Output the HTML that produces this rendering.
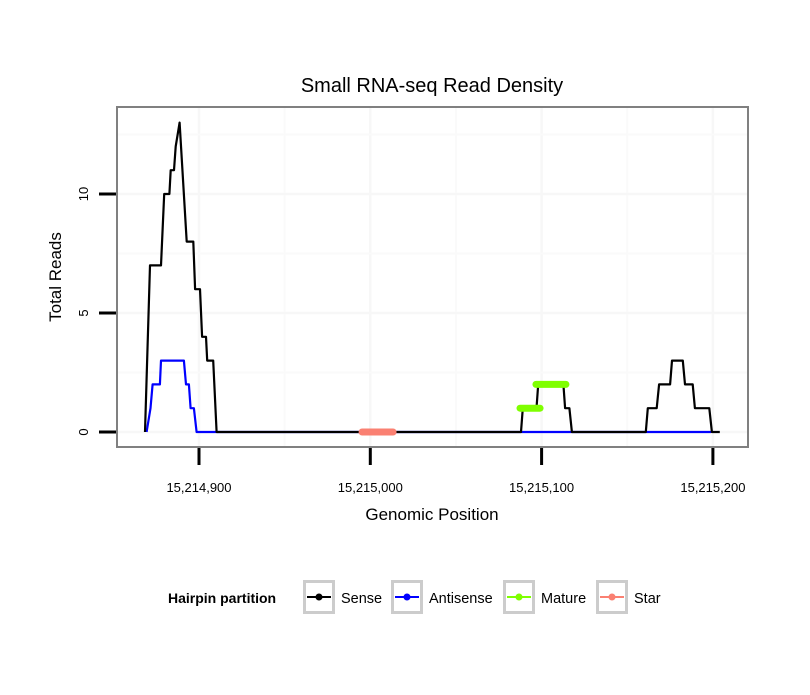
<!DOCTYPE html>
<html><head><meta charset="utf-8"><style>
body{margin:0;background:#fff;font-family:"Liberation Sans",sans-serif}
svg text{font-family:"Liberation Sans",sans-serif}
</style></head><body>
<svg id="chart" width="810" height="690" xmlns="http://www.w3.org/2000/svg">
<rect width="810" height="690" fill="#fff"/>
<text x="432" y="92" font-size="20" text-anchor="middle">Small RNA-seq Read Density</text>
<g id="grid"></g>
<g id="series"></g>
<rect x="117" y="107" width="631" height="340" fill="none" stroke="#808080" stroke-width="2"/>
<g id="axes"></g>
<text x="432" y="520" font-size="17" text-anchor="middle">Genomic Position</text>
<text transform="translate(61,277) rotate(-90)" font-size="17" text-anchor="middle">Total Reads</text>
<g>
<text x="168" y="603" font-size="14" font-weight="bold">Hairpin partition</text>
<g><rect x="304.5" y="581.5" width="29" height="31" fill="#fff" stroke="#ccc" stroke-width="3"/><line x1="307" y1="597" x2="331" y2="597" stroke="#000" stroke-width="2"/><circle cx="319" cy="597" r="3.5" fill="#000"/><text x="341" y="603" font-size="14.5">Sense</text></g>
<g><rect x="392.5" y="581.5" width="29" height="31" fill="#fff" stroke="#ccc" stroke-width="3"/><line x1="395" y1="597" x2="419" y2="597" stroke="#0000ff" stroke-width="2"/><circle cx="407" cy="597" r="3.5" fill="#0000ff"/><text x="429" y="603" font-size="14.5">Antisense</text></g>
<g><rect x="504.5" y="581.5" width="29" height="31" fill="#fff" stroke="#ccc" stroke-width="3"/><line x1="507" y1="597" x2="531" y2="597" stroke="#7fff00" stroke-width="2"/><circle cx="519" cy="597" r="3.5" fill="#7fff00"/><text x="541" y="603" font-size="14.5">Mature</text></g>
<g><rect x="597.5" y="581.5" width="29" height="31" fill="#fff" stroke="#ccc" stroke-width="3"/><line x1="600" y1="597" x2="624" y2="597" stroke="#fa8072" stroke-width="2"/><circle cx="612" cy="597" r="3.5" fill="#fa8072"/><text x="634" y="603" font-size="14.5">Star</text></g>
</g>
</svg>
<script>
const xTicks=[15214900,15215000,15215100,15215200];
const xTickLabels=["15,214,900","15,215,000","15,215,100","15,215,200"];
const yTicks=[0,5,10];
const senseX=[15214868.5,15214871.4,15214877.8,15214879.7,15214882.7,15214883.5,15214885.4,15214886.4,15214888.7,15214892.8,15214896.7,15214897.7,15214900.6,15214901.8,15214904.1,15214904.8,15214908.3,15214910.3,15215088,15215089,15215097,15215098,15215112.7,15215113.7,15215116.2,15215117.7,15215160.8,15215162,15215167.2,15215168.6,15215175,15215176.1,15215182.4,15215183.7,15215188.2,15215189.5,15215197.9,15215199.4,15215204];
const senseY=[0,7,7,10,10,11,11,12,13,8,8,6,6,4,4,3,3,0,0,1,1,2,2,1,1,0,0,1,1,2,2,3,3,2,2,1,1,0,0];
const antiX=[15214869.4,15214871.7,15214872.9,15214877.2,15214877.8,15214891.2,15214892.4,15214894.1,15214895.1,15214897,15214898.6,15215199];
const antiY=[0,1,2,2,3,3,2,2,1,1,0,0];
const matureStart=[15215087.4,15215096.7];
const matureEnd=[15215099.1,15215114.2];
const matureY=[1,2];
const starStart=[15214995.2];
const starEnd=[15215013.3];
const starY=[0];

const NS="http://www.w3.org/2000/svg";
const X=v=>199+(v-15214900)*1.713;
const Y=v=>432-v*23.8;
function mk(t,a,p){const e=document.createElementNS(NS,t);for(const k in a)e.setAttribute(k,a[k]);p.appendChild(e);return e;}
const grid=document.getElementById('grid'),ser=document.getElementById('series'),axes=document.getElementById('axes');
for(let v=15214850;v<=15215250;v+=50){const x=X(v);if(x<118||x>747)continue;
 const l=mk('line',{x1:x,x2:x,y1:108,y2:446,stroke:v%100?'#fafafa':'#f7f7f7','stroke-width':v%100?2:2.5},grid);
 
 }
for(let v=0;v<=12.5;v+=2.5){const y=Y(v);
 const l=mk('line',{x1:118,x2:747,y1:y,y2:y,stroke:v%5?'#fafafa':'#f7f7f7','stroke-width':v%5?2:2.5},grid);
 
 }
function path(xs,ys,col,name){let d='';xs.forEach((v,i)=>{d+=(i?'L':'M')+X(v).toFixed(1)+','+Y(ys[i]).toFixed(1);});
 const p=mk('path',{d:d,fill:'none',stroke:col,'stroke-width':2.2,'stroke-linejoin':'round'},ser);
 
 }
path(antiX,antiY,'#0000ff','antisense-line');
path(senseX,senseY,'#000','sense-line');
function segs(s,e,ys,col,name){s.forEach((v,i)=>{
 const l=mk('line',{x1:X(v),x2:X(e[i]),y1:Y(ys[i]),y2:Y(ys[i]),stroke:col,'stroke-width':7,'stroke-linecap':'round'},ser);
 
 });}
segs(matureStart,matureEnd,matureY,'#7fff00','mature-segment');
segs(starStart,starEnd,starY,'#fa8072','star-segment');
xTicks.forEach((v,i)=>{const x=X(v);
 const t=mk('line',{x1:x,x2:x,y1:448,y2:465,stroke:'#000','stroke-width':3},axes);
 
 
 const tx=mk('text',{x:x,y:492,'font-size':13,'text-anchor':'middle'},axes);tx.textContent=xTickLabels[i];
 
 });
yTicks.forEach(v=>{const y=Y(v);
 const t=mk('line',{x1:99,x2:116,y1:y,y2:y,stroke:'#000','stroke-width':3},axes);
 
 
 const tx=mk('text',{transform:`translate(88,${y}) rotate(-90)`,'font-size':13,'text-anchor':'middle'},axes);tx.textContent=v;
 
 });
</script>
</body></html>
